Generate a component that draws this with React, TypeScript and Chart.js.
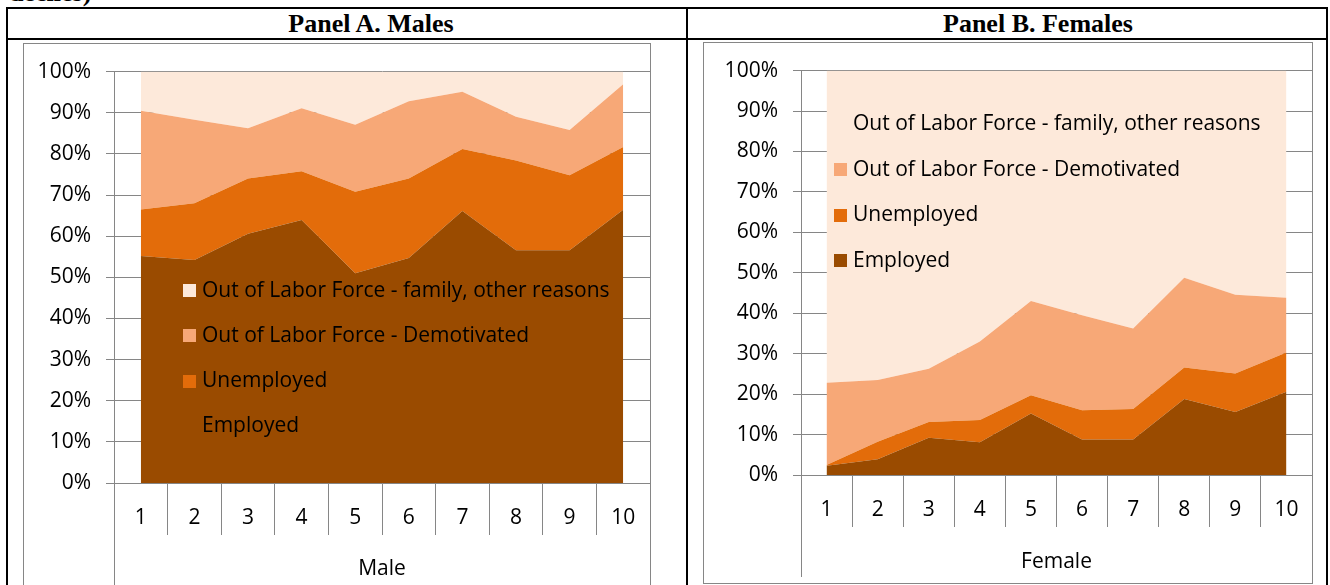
import React, { useEffect, useRef } from 'react';
import { Chart, registerables } from 'chart.js';

Chart.register(...registerables);

// ---------- data ----------
const deciles = ['1', '2', '3', '4', '5', '6', '7', '8', '9', '10'];

const seriesLabels = [
  'Employed',
  'Unemployed',
  'Out of Labor Force - Demotivated',
  'Out of Labor Force - family, other reasons',
];
const seriesColors = ['#9A4B00', '#E36C0A', '#F7A877', '#FDE9DA'];

// Panel A. Males (percent of group, stacked to 100)
const maleEmployed = [55.2, 54.2, 60.6, 63.9, 51.0, 54.7, 66.1, 56.6, 56.6, 66.4];
const maleUnemployed = [11.3, 13.8, 13.4, 11.9, 19.8, 19.3, 15.1, 21.8, 18.2, 15.3];
const maleDemotivated = [24.0, 20.3, 12.2, 15.3, 16.3, 18.8, 13.9, 10.6, 11.0, 15.2];
const maleFamily = [9.5, 11.7, 13.8, 8.9, 12.9, 7.2, 4.9, 11.0, 14.2, 3.1];

// Panel B. Females
const femaleEmployed = [2.3, 3.9, 9.2, 8.1, 15.2, 8.8, 8.8, 18.8, 15.6, 20.6];
const femaleUnemployed = [0.2, 4.3, 3.9, 5.5, 4.5, 7.2, 7.5, 7.8, 9.5, 9.7];
const femaleDemotivated = [20.3, 15.3, 13.2, 19.4, 23.3, 23.5, 19.9, 22.2, 19.5, 13.5];
const femaleFamily = [77.2, 76.5, 73.7, 67.0, 57.0, 60.5, 63.8, 51.2, 55.4, 56.2];

const yMin = 0;
const yMax = 100;
const yStep = 10;
const tickSuffix = '%';

// ---------- style ----------
const FONT = 'Open Sans';
const FS = 21;
const GRID = '#868686';

const insideLegend = {
  id: 'insideLegend',
  afterDatasetsDraw(chart: any, _args: any, opts: any) {
    const { ctx, chartArea } = chart;
    const ds = chart.data.datasets;
    ctx.save();
    ctx.font = `${FS}px "${FONT}"`;
    ctx.textBaseline = 'middle';
    ctx.textAlign = 'left';
    let row = 0;
    for (let i = ds.length - 1; i >= 0; i--, row++) {
      const cy = chartArea.top + opts.y + row * opts.spacing;
      const x = chartArea.left + opts.x;
      ctx.fillStyle = ds[i].backgroundColor;
      ctx.fillRect(x, Math.round(cy - opts.box / 2), opts.box, opts.box);
      ctx.fillStyle = '#000';
      ctx.fillText(ds[i].label, x + opts.box + opts.gap, cy);
    }
    ctx.restore();
  },
};

const axisFrame = {
  id: 'axisFrame',
  afterDraw(chart: any, _args: any, opts: any) {
    const { ctx, chartArea } = chart;
    const x = Math.round(chartArea.left) + 0.5;
    ctx.save();
    ctx.strokeStyle = GRID;
    ctx.lineWidth = 1;
    ctx.beginPath();
    ctx.moveTo(x, chartArea.bottom + 52);
    ctx.lineTo(x, chart.height - opts.bottomGap);
    ctx.stroke();
    ctx.restore();
  },
};

type PanelProps = {
  width: number;
  height: number;
  values: number[][];
  axisTitle: string;
  yWidth: number;
  xHeight: number;
  padTop: number;
  titlePadBottom: number;
  legendX: number;
  legendY: number;
  legendSpacing: number;
  bottomGap: number;
};

function AreaPanel(p: PanelProps) {
  const ref = useRef<HTMLCanvasElement>(null);
  useEffect(() => {
    const font = { family: FONT, size: FS };
    const chart = new Chart(ref.current as HTMLCanvasElement, {
      type: 'line',
      data: {
        labels: deciles,
        datasets: p.values.map((v, i) => ({
          label: seriesLabels[i],
          data: v,
          backgroundColor: seriesColors[i],
          borderColor: seriesColors[i],
          borderWidth: 0,
          pointRadius: 0,
          pointHoverRadius: 0,
          tension: 0,
          fill: i === 0 ? 'origin' : '-1',
        })),
      },
      options: {
        responsive: false,
        animation: false,
        events: [],
        layout: { padding: { top: p.padTop, left: 0, right: 0, bottom: 0 } },
        plugins: {
          legend: { display: false },
          tooltip: { enabled: false },
          insideLegend: { x: p.legendX, y: p.legendY, spacing: p.legendSpacing, box: 13, gap: 6 },
          axisFrame: { bottomGap: p.bottomGap },
        } as any,
        scales: {
          x: {
            type: 'category',
            offset: true,
            grid: {
              display: true,
              offset: true,
              drawOnChartArea: false,
              drawTicks: true,
              tickLength: 52,
              color: GRID,
              lineWidth: 1,
            },
            border: { display: true, color: GRID, width: 1 },
            ticks: { font, color: '#000', padding: -29.6, maxRotation: 0, autoSkip: false },
            title: {
              display: true,
              text: p.axisTitle,
              font,
              color: '#000',
              padding: { top: 0, bottom: p.titlePadBottom },
            },
            afterFit: (s: any) => {
              s.height = p.xHeight;
            },
          },
          y: {
            stacked: true,
            min: yMin,
            max: yMax,
            ticks: {
              stepSize: yStep,
              font,
              color: '#000',
              padding: 15,
              callback: (v: any) => `${v}${tickSuffix}`,
            },
            grid: { color: GRID, lineWidth: 1, tickLength: 8, drawTicks: true },
            border: { display: true, color: GRID, width: 1 },
            afterFit: (s: any) => {
              s.width = p.yWidth;
            },
          },
        },
      },
      plugins: [insideLegend, axisFrame],
    });
    return () => chart.destroy();
  }, []);
  return (
    <canvas
      ref={ref}
      width={p.width}
      height={p.height}
      style={{ display: 'block', width: p.width, height: p.height }}
    />
  );
}

const abs = (l: number, t: number, w: number, h: number, extra: any = {}) => ({
  position: 'absolute' as const,
  left: l,
  top: t,
  width: w,
  height: h,
  ...extra,
});

export default function App() {
  const headerFont = {
    fontFamily: '"Liberation Serif", "Times New Roman", serif',
    fontWeight: 700,
    fontSize: 26,
    lineHeight: '26px',
    textAlign: 'center' as const,
    color: '#000',
    whiteSpace: 'nowrap' as const,
  };
  return (
    <div style={{ position: 'fixed', inset: 0, overflow: 'hidden', background: '#fff' }}>
      <div style={abs(9, -20, 200, 28, { ...headerFont, textAlign: 'left' })}>deciles)</div>
      {/* table lines */}
      <div style={abs(6, 7, 1322, 2, { background: '#000' })} />
      <div style={abs(6, 38, 1322, 2, { background: '#000' })} />
      <div style={abs(6, 7, 2, 600, { background: '#000' })} />
      <div style={abs(686, 7, 2, 600, { background: '#000' })} />
      <div style={abs(1326, 7, 2, 600, { background: '#000' })} />
      {/* headers */}
      <div style={abs(171, 11, 400, 28, headerFont)}>Panel A. Males</div>
      <div style={abs(838, 11, 400, 28, headerFont)}>Panel B. Females</div>
      {/* chart A frame */}
      <div
        style={abs(23, 43, 628, 600, {
          boxSizing: 'border-box',
          border: `1px solid ${GRID}`,
        })}
      />
      <div style={abs(24, 44, 626, 541)}>
        <AreaPanel
          width={626}
          height={541}
          values={[maleEmployed, maleUnemployed, maleDemotivated, maleFamily]}
          axisTitle="Male"
          yWidth={90}
          xHeight={102}
          padTop={25}
          titlePadBottom={3.4}
          legendX={69}
          legendY={219}
          legendSpacing={45.3}
          bottomGap={0}
        />
      </div>
      {/* chart B frame */}
      <div
        style={abs(703, 42, 610, 542, {
          boxSizing: 'border-box',
          border: `1px solid ${GRID}`,
        })}
      />
      <div style={abs(704, 43, 608, 540)}>
        <AreaPanel
          width={608}
          height={540}
          values={[femaleEmployed, femaleUnemployed, femaleDemotivated, femaleFamily]}
          axisTitle="Female"
          yWidth={97}
          xHeight={108}
          padTop={27}
          titlePadBottom={7.9}
          legendX={33}
          legendY={53.5}
          legendSpacing={45.6}
          bottomGap={6}
        />
      </div>
    </div>
  );
}
